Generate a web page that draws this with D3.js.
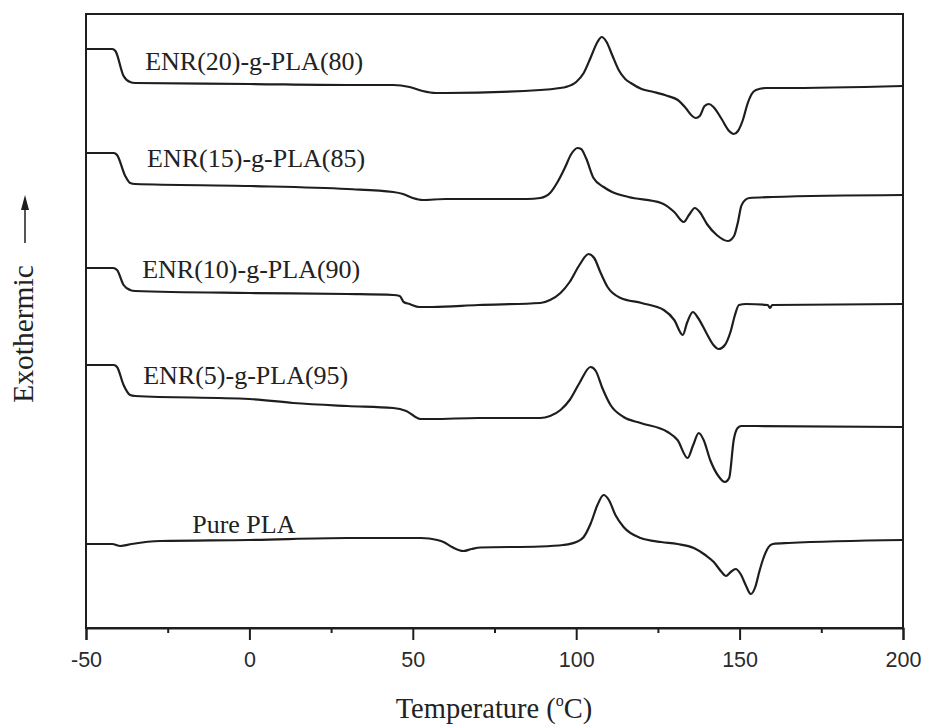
<!DOCTYPE html>
<html>
<head>
<meta charset="utf-8">
<script src="https://cdn.jsdelivr.net/npm/d3@7"></script>
<style>
  body { margin: 0; background: #fff; }
  svg { display: block; }
</style>
</head>
<body>
<div id="dsc-chart"></div>
<script>
// DSC heating scans, heat flow in arbitrary units (exo up)
const sampleNames = ['ENR(20)-g-PLA(80)', 'ENR(15)-g-PLA(85)', 'ENR(10)-g-PLA(90)', 'ENR(5)-g-PLA(95)', 'Pure PLA'];

const enr20 = [[-50,57.9],[-42,57.9],[-41,57.7],[-38.5,55.2],[-36.5,54.6],[-35,54.5],[0,54.4],[30,54.3],[44,54.3],[49,54.1],[53,53.7],[57,53.5],[60,53.5],[89,53.8],[95,54.0],[96.8,54.1],[100,54.6],[102.3,55.5],[104.5,57.1],[106.5,58.6],[107.8,59.1],[109.3,58.6],[111,57.3],[113,55.8],[115,54.9],[116.7,54.5],[120,53.9],[123.7,53.6],[128,53.2],[131.1,52.8],[133.5,52.0],[135.5,51.2],[136.6,51.0],[137.8,51.2],[139.3,52.2],[140.6,52.4],[142,52.1],[144.5,50.9],[146.8,49.7],[148.2,49.4],[149.5,49.7],[151,50.8],[152.5,52.5],[153.7,53.4],[155,53.8],[158,54.0],[162.6,54.0],[200,54.2]];

const enr15 = [[-50,47.5],[-41.5,47.5],[-40.5,47.3],[-38,45.2],[-36.5,44.5],[-35,44.4],[0,44.2],[30,43.9],[44,43.6],[47,43.4],[50,43.0],[53,42.8],[60,42.9],[85,42.9],[89,43.0],[92,43.5],[94.3,44.6],[96.5,46.0],[98.5,47.4],[100.4,48.0],[101.5,47.9],[103,47.0],[105.3,45.0],[108.4,44.1],[111,43.6],[116,43.1],[126,42.5],[130,41.6],[132.9,40.6],[134.5,41.3],[136.3,42.0],[137.8,41.6],[140,40.4],[143,39.3],[146.4,38.7],[148.3,39.2],[149.5,40.6],[150.5,42.2],[151.7,42.8],[153,43.0],[160,43.1],[200,43.3]];

const enr10 = [[-50,36.0],[-41.7,36.0],[-40.5,35.8],[-38.5,34.3],[-36.5,33.8],[-35,33.7],[0,33.5],[30,33.4],[44,33.3],[46,33.2],[47.2,32.6],[49,32.4],[52,32.1],[56,32.1],[70,32.3],[89,32.5],[92,32.8],[95.2,33.5],[98,34.6],[101,36.3],[103.8,37.4],[105.5,37.0],[107.5,35.5],[109.6,34.1],[113.6,33.0],[120,32.5],[126.8,31.8],[130,30.8],[132.6,29.3],[134,30.6],[135.7,31.6],[137.3,31.0],[140,29.4],[142,28.3],[143.6,27.9],[145.5,28.3],[147.2,29.6],[148.5,31.2],[149.8,32.3],[152,32.4],[158.6,32.3],[159.3,32.0],[160,32.3],[200,32.4]];

const enr5 = [[-50,26.3],[-41.5,26.3],[-40.5,26.1],[-38.5,24.3],[-36.5,23.3],[-35,23.2],[0,22.9],[13.4,22.5],[30,22.2],[44,22.0],[48,21.7],[52.3,20.9],[56,20.9],[70,21.0],[89,21.0],[92,21.2],[95.2,21.8],[98,22.8],[101,24.5],[104.4,26.1],[106,25.7],[108,24.0],[110.5,22.3],[114.5,21.1],[119.7,20.5],[128,19.6],[131,18.8],[134.1,17.0],[135.8,18.3],[137.5,19.5],[139,18.8],[141,16.8],[143.5,15.2],[145.5,14.6],[146.8,15.0],[148.2,18.8],[149.4,20.0],[150.5,20.2],[155,20.2],[200,20.1]];

const purePLA = [[-50,8.4],[-42,8.4],[-39.5,8.2],[-36,8.4],[-27.3,8.7],[0,8.8],[30,9.0],[52.5,9.0],[55,8.95],[57.5,8.8],[59.4,8.6],[62,8.1],[65.5,7.7],[68,7.9],[70.7,8.05],[89,8.15],[96,8.3],[100,8.6],[102.3,9.1],[104.5,10.5],[106.5,12.3],[108.4,13.3],[110,12.8],[112,11.3],[114.5,10.1],[119.7,9.0],[126,8.6],[131,8.4],[136,8.0],[139.5,7.3],[142.1,6.6],[144.5,5.6],[145.8,5.2],[147.3,5.6],[148.8,5.9],[150.3,5.4],[152,4.2],[153.4,3.4],[154.8,4.1],[156,5.6],[157.1,6.8],[158.5,7.9],[160.2,8.4],[165,8.5],[200,8.8]];

// where each sample name sits, in (temperature, heat flow) units
const labelAt = [[-31.9,55.8],[-31.3,46.1],[-32.8,35.0],[-32.5,24.4],[-17.5,9.5]];

const xMajorTicks = [-50, 0, 50, 100, 150, 200];
const xMinorTicks = [-25, 25, 75, 125, 175];

const curves = [enr20, enr15, enr10, enr5, purePLA];

const W = 926, H = 728;
const plotL = 86, plotR = 903, plotT = 14, plotB = 628;

const svg = d3.select('#dsc-chart').append('svg')
    .attr('width', W)
    .attr('height', H);

const x = d3.scaleLinear().domain([-50, 200]).range([plotL, plotR]);
const y = d3.scaleLinear().domain([0, 61.4]).range([plotB, plotT]);

const ink = '#1e1e1e';

// frame
svg.append('rect')
    .attr('x', plotL).attr('y', plotT)
    .attr('width', plotR - plotL).attr('height', plotB - plotT)
    .attr('fill', 'none').attr('stroke', ink).attr('stroke-width', 2);

// bottom axis, long ticks with labels every 50, short ones between
const xAxis = svg.append('g')
    .attr('transform', 'translate(0,' + plotB + ')')
    .call(d3.axisBottom(x).tickValues(xMajorTicks).tickSize(12).tickPadding(12).tickFormat(d => String(d)));

svg.append('g')
    .attr('transform', 'translate(0,' + plotB + ')')
    .call(d3.axisBottom(x).tickValues(xMinorTicks).tickSize(5).tickFormat(''))
    .call(g => g.select('.domain').remove());

svg.selectAll('.tick line').attr('stroke', ink).attr('stroke-width', 2);
xAxis.select('.domain').attr('stroke', ink).attr('stroke-width', 2);
xAxis.selectAll('.tick text')
    .attr('fill', '#2a2a2a')
    .style('font-family', '"Liberation Sans", Arial, sans-serif')
    .style('font-size', '21.5px');

// curves
const line = d3.line()
    .x(d => x(d[0]))
    .y(d => y(d[1]))
    .curve(d3.curveMonotoneX);

svg.append('g').selectAll('path')
    .data(curves)
    .join('path')
    .attr('d', line)
    .attr('fill', 'none')
    .attr('stroke', ink)
    .attr('stroke-width', 2.2)
    .attr('stroke-linejoin', 'round');

// sample names
svg.append('g').selectAll('text')
    .data(sampleNames)
    .join('text')
    .attr('x', (d, i) => x(labelAt[i][0]))
    .attr('y', (d, i) => y(labelAt[i][1]))
    .attr('fill', '#222')
    .style('font-family', '"Liberation Serif", "Times New Roman", serif')
    .style('font-size', '26px')
    .text(d => d);

// x title with superscript degree
const xt = svg.append('text')
    .attr('x', 494)
    .attr('y', 718)
    .attr('text-anchor', 'middle')
    .attr('fill', '#222')
    .style('font-family', '"Liberation Serif", "Times New Roman", serif')
    .style('font-size', '28.5px');
xt.append('tspan').text('Temperature (');
xt.append('tspan').attr('dy', -12).style('font-size', '16px').text('o');
xt.append('tspan').attr('dy', 12).text('C)');

// y title and arrow
svg.append('text')
    .attr('transform', 'translate(33,334) rotate(-90)')
    .attr('text-anchor', 'middle')
    .attr('fill', '#222')
    .style('font-family', '"Liberation Serif", "Times New Roman", serif')
    .style('font-size', '29.5px')
    .text('Exothermic');

svg.append('line')
    .attr('x1', 25).attr('x2', 25)
    .attr('y1', 243).attr('y2', 208)
    .attr('stroke', ink).attr('stroke-width', 1.5);

svg.append('path')
    .attr('d', 'M25,195 L21,210 L29,210 Z')
    .attr('fill', ink);
</script>
</body>
</html>
